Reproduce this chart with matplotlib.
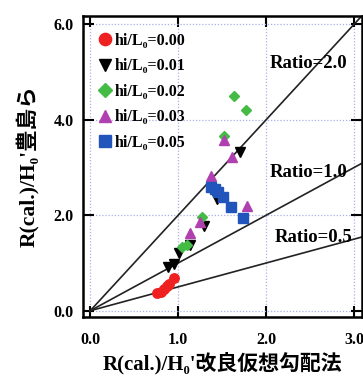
import matplotlib
matplotlib.use("Agg")
import matplotlib.pyplot as plt
import numpy as np

FAM = ['Liberation Serif', 'Noto Sans CJK JP', 'DejaVu Serif']
plt.rcParams['font.family'] = FAM
plt.rcParams['font.weight'] = 'bold'

# data
red_x = [0.76, 0.80, 0.84, 0.87, 0.90, 0.95]
red_y = [0.37, 0.40, 0.46, 0.52, 0.56, 0.68]
blk_x = [0.89, 0.95, 1.01, 1.14, 1.29, 1.44, 1.70]
blk_y = [0.92, 0.97, 1.22, 1.38, 1.78, 2.34, 3.33]
grn_x = [1.04, 1.10, 1.27, 1.52, 1.63, 1.77]
grn_y = [1.34, 1.38, 1.97, 3.67, 4.49, 4.21]
mag_x = [1.14, 1.25, 1.37, 1.52, 1.61, 1.78]
mag_y = [1.62, 1.85, 2.82, 3.58, 3.22, 2.20]
blu_x = [1.375, 1.42, 1.45, 1.51, 1.60, 1.74]
blu_y = [2.60, 2.55, 2.48, 2.39, 2.18, 1.94]
labels = ['hi/L\u2080=0.00', 'hi/L\u2080=0.01', 'hi/L\u2080=0.02', 'hi/L\u2080=0.03', 'hi/L\u2080=0.05']
ratios = [2.0, 1.0, 0.5]
ratio_labels = ['Ratio=2.0', 'Ratio=1.0', 'Ratio=0.5']
xticks = [0.0, 1.0, 2.0, 3.0]
yticks = [0.0, 2.0, 4.0, 6.0]

fig = plt.figure(figsize=(3.63, 3.76), dpi=100)
ax = fig.add_axes([0.229, 0.157, 0.768, 0.801])

xlim = (-0.08, 3.09)
ylim = (-0.13, 6.18)
ax.set_xlim(*xlim)
ax.set_ylim(*ylim)

ax.grid(True, linestyle=(0, (1, 1.5)), color='#aab0e6', linewidth=0.9)
ax.set_axisbelow(True)

xx = np.array([0.0, 3.2])
for r in ratios:
    ax.plot(xx, r * xx, color='#222222', linewidth=1.2, zorder=2)

ax.text(2.04, 5.19, ratio_labels[0], fontsize=13.5, fontweight='bold', va='center', ha='left', zorder=3)
ax.text(2.04, 2.89, ratio_labels[1], fontsize=13.5, fontweight='bold', va='center', ha='left', zorder=3)
ax.text(2.10, 1.54, ratio_labels[2], fontsize=13.5, fontweight='bold', va='center', ha='left', zorder=3)

ms = 6.8
ax.plot(red_x, red_y, 'o', color='#ee2020', markersize=ms, label=labels[0], zorder=4)
ax.plot(blk_x, blk_y, 'v', color='#000000', markersize=ms, label=labels[1], zorder=4)
ax.plot(grn_x, grn_y, 'D', color='#44bb44', markersize=ms - 1.2, label=labels[2], zorder=4)
ax.plot(mag_x, mag_y, '^', color='#b040b0', markersize=ms, label=labels[3], zorder=4)
ax.plot(blu_x, blu_y, 's', color='#2255bb', markersize=ms, label=labels[4], zorder=4)

leg = ax.legend(loc='upper left', frameon=False, handlelength=0.7, handletextpad=0.25,
                borderaxespad=0.55, borderpad=0.5, labelspacing=0.6, markerscale=1.3,
                prop={'family': FAM, 'weight': 'bold', 'size': 11.5})

ax.set_xticks(xticks)
ax.set_yticks(yticks)
ax.set_xticklabels([f'{v:.1f}' for v in xticks])
ax.set_yticklabels([f'{v:.1f}' for v in yticks])
ax.tick_params(direction='in', length=8, width=1.5, top=True, right=True, labelsize=11.5)
ax.tick_params(axis='x', pad=11)
ax.tick_params(axis='y', pad=7)
for lab in ax.get_xticklabels() + ax.get_yticklabels():
    lab.set_fontweight('bold')
for s in ax.spines.values():
    s.set_linewidth(1.8)

ax.set_xlabel("R(cal.)/H\u2080'改良仮想勾配法", fontsize=15, fontweight='bold', labelpad=3)
ax.set_ylabel("R(cal.)/H\u2080'豊島ら", fontsize=15.5, fontweight='bold', labelpad=10)

fig.savefig('out.png', dpi=100)
